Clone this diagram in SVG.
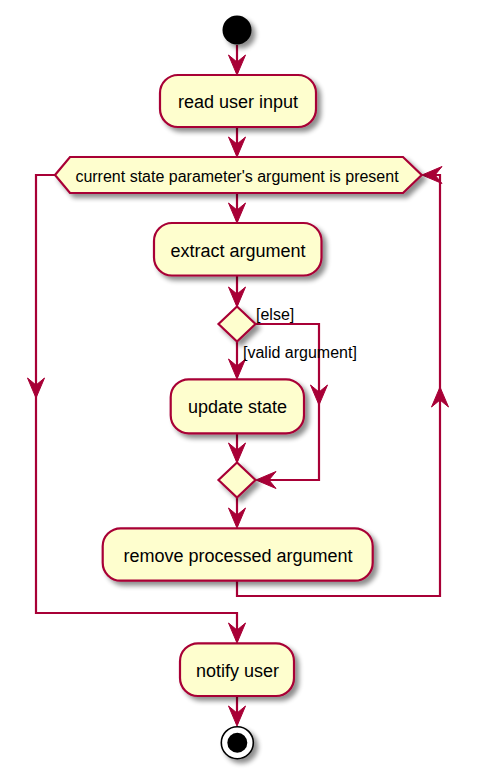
<svg xmlns="http://www.w3.org/2000/svg" xmlns:xlink="http://www.w3.org/1999/xlink" width="477" height="774" viewBox="0 0 477 774">
<defs>
<filter id="sh" x="-20%" y="-20%" width="150%" height="160%">
<feGaussianBlur in="SourceAlpha" stdDeviation="2.5"/>
<feOffset dx="4" dy="4" result="b"/>
<feComponentTransfer><feFuncA type="linear" slope="0.45"/></feComponentTransfer>
<feMerge><feMergeNode/><feMergeNode in="SourceGraphic"/></feMerge>
</filter>
<path id="ah" d="M0,0 L-8.5,-20 L0,-13 L8.5,-20 Z"/>
</defs>
<style>
.box{fill:#FEFECE;stroke:#A80036;stroke-width:2.2;filter:url(#sh)}
.ln{fill:none;stroke:#A80036;stroke-width:2.2}
.hd{fill:#A80036;stroke:#A80036;stroke-width:1}
.t{font-family:"Liberation Sans",Arial,sans-serif;font-size:18px;fill:#000;text-anchor:middle}
.c{font-family:"Liberation Sans",Arial,sans-serif;font-size:16px;fill:#000}
</style>
<rect width="477" height="774" fill="#FFFFFF"/>

<g id="connectors">
<path class="ln" d="M237,45 V73"/>
<use href="#ah" class="hd" transform="translate(237,75)"/>
<path class="ln" d="M237,127 V155"/>
<use href="#ah" class="hd" transform="translate(237,157)"/>
<path class="ln" d="M237,193 V221"/>
<use href="#ah" class="hd" transform="translate(237,223)"/>
<path class="ln" d="M237,276 V305"/>
<use href="#ah" class="hd" transform="translate(237,307)"/>
<path class="ln" d="M237,342 V377"/>
<use href="#ah" class="hd" transform="translate(237,379)"/>
<path class="ln" d="M256,324 H319 V480 H258"/>
<use href="#ah" class="hd" transform="translate(319,405)"/>
<use href="#ah" class="hd" transform="translate(256,480) rotate(90)"/>
<path class="ln" d="M237,433 V461"/>
<use href="#ah" class="hd" transform="translate(237,463)"/>
<path class="ln" d="M237,498 V526"/>
<use href="#ah" class="hd" transform="translate(237,528)"/>
<path class="ln" d="M237,581 V596 H440 V175 H424"/>
<use href="#ah" class="hd" transform="translate(440,387) rotate(180)"/>
<use href="#ah" class="hd" transform="translate(422,175) rotate(90)"/>
<path class="ln" d="M55,175 H36 V613 H237 V641"/>
<use href="#ah" class="hd" transform="translate(36,398)"/>
<use href="#ah" class="hd" transform="translate(237,643)"/>
<path class="ln" d="M237,696 V724"/>
<use href="#ah" class="hd" transform="translate(237,726)"/>
<text class="c" x="256" y="320">[else]</text>
<text class="c" x="243" y="358">[valid argument]</text>
</g>

<g id="start">
<circle cx="237" cy="30" r="14.5" fill="#000" filter="url(#sh)"/>
</g>

<g id="read">
<rect class="box" x="160" y="75" width="156" height="52" rx="18"/>
<text class="t" x="238" y="108">read user input</text>
</g>

<g id="while">
<polygon class="box" points="55,175 70,157 403,157 421.7,175 403,193 70,193"/>
<text class="c" x="237" y="182" text-anchor="middle">current state parameter's argument is present</text>
</g>

<g id="extract">
<rect class="box" x="154" y="223" width="167.5" height="52.5" rx="18"/>
<text class="t" x="238" y="256.5">extract argument</text>
</g>

<g id="if">
<polygon class="box" points="237,306.5 255.5,324 237,341.5 218.5,324"/>
</g>

<g id="update">
<rect class="box" x="170.7" y="379.3" width="133.3" height="54" rx="18"/>
<text class="t" x="237.5" y="412.5">update state</text>
</g>

<g id="endif">
<polygon class="box" points="237,462.5 255.5,480 237,497.5 218.5,480"/>
</g>

<g id="remove">
<rect class="box" x="102.7" y="528.3" width="270" height="52.4" rx="18"/>
<text class="t" x="238" y="562">remove processed argument</text>
</g>

<g id="notify">
<rect class="box" x="180" y="643.3" width="114" height="52.7" rx="18"/>
<text class="t" x="237.5" y="676.5">notify user</text>
</g>

<g id="end">
<circle cx="237.3" cy="742.7" r="16" fill="#FFFFFF" stroke="#000" stroke-width="1.6" filter="url(#sh)"/>
<circle cx="237.3" cy="742.7" r="10" fill="#000"/>
</g>
</svg>
